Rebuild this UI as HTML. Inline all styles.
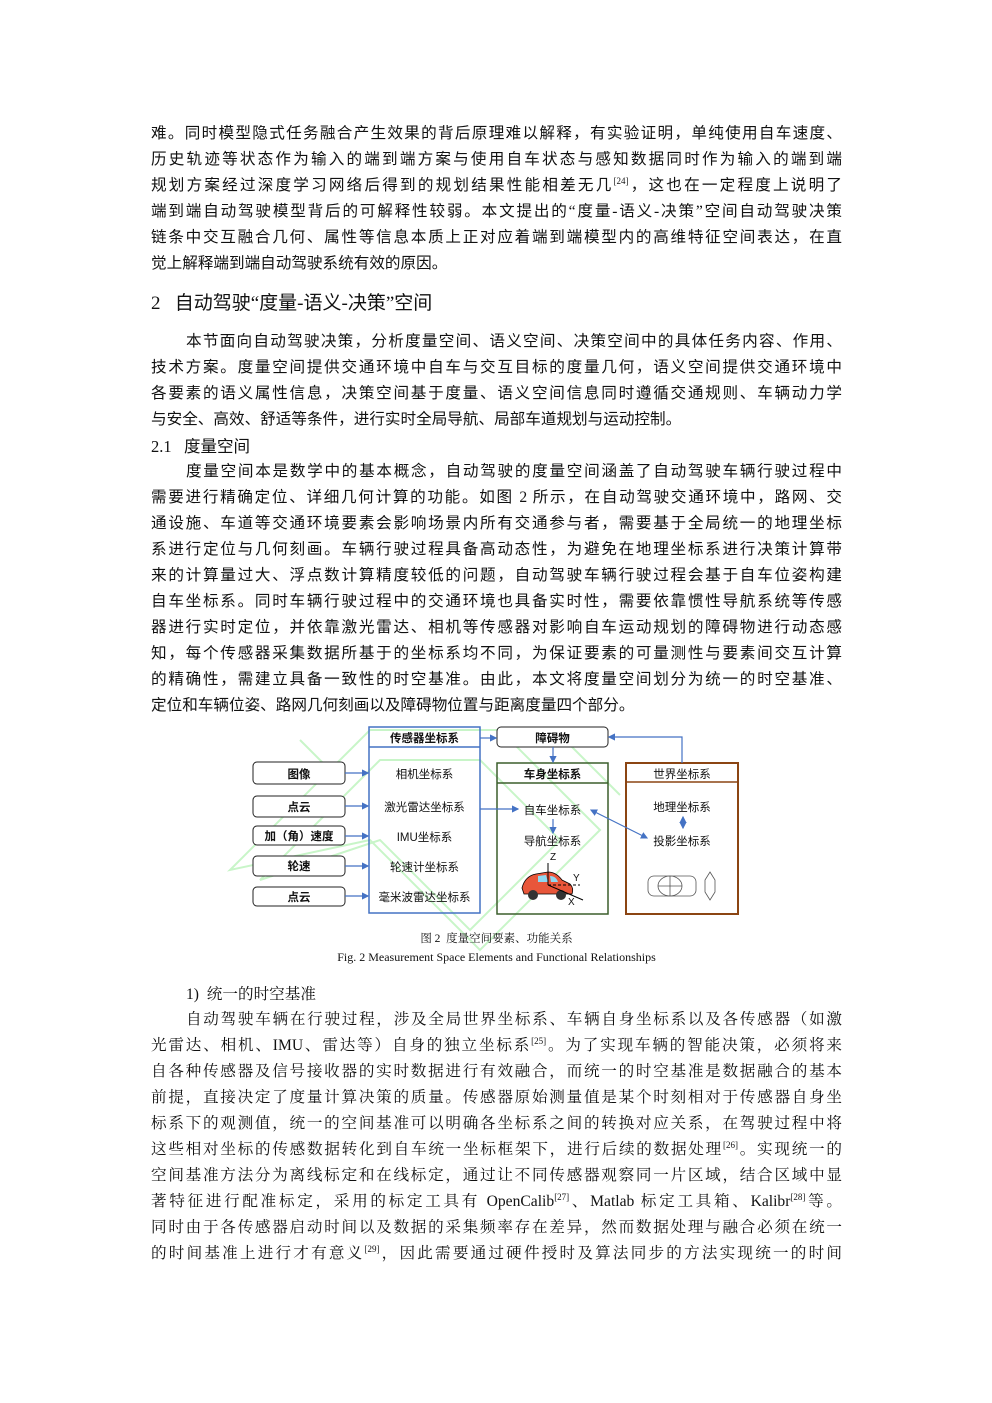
<!DOCTYPE html>
<html><head><meta charset="utf-8"><style>
body{margin:0;background:#fff;}
#p{position:relative;width:992px;height:1403px;overflow:hidden;background:#fff;color:#111;}
.l{position:absolute;left:151px;width:691px;height:22px;line-height:22px;font-size:15.6px;text-align:justify;text-align-last:justify;font-family:"Liberation Serif","Noto Sans CJK SC",sans-serif;white-space:nowrap;overflow:visible;margin-top:2px;}
.s{font-family:"Liberation Serif","Noto Serif CJK SC",serif;}
.n{text-align-last:left;}
.i{left:186px;width:656px;}
sup{font-size:9px;line-height:0;}
.d{position:absolute;font-family:"Liberation Sans","Noto Sans CJK SC",sans-serif;font-size:11.5px;text-align:center;}
</style></head><body><div id="p">
<div class="l" style="top:121px">难。同时模型隐式任务融合产生效果的背后原理难以解释，有实验证明，单纯使用自车速度、</div>
<div class="l" style="top:147px">历史轨迹等状态作为输入的端到端方案与使用自车状态与感知数据同时作为输入的端到端</div>
<div class="l" style="top:173px">规划方案经过深度学习网络后得到的规划结果性能相差无几<sup>[24]</sup>，这也在一定程度上说明了</div>
<div class="l" style="top:199px">端到端自动驾驶模型背后的可解释性较弱。本文提出的“度量-语义-决策”空间自动驾驶决策</div>
<div class="l" style="top:225px">链条中交互融合几何、属性等信息本质上正对应着端到端模型内的高维特征空间表达，在直</div>
<div class="l n" style="top:251px">觉上解释端到端自动驾驶系统有效的原因。</div>
<div class="l n" style="top:290px;font-size:19px;height:24px;line-height:24px">2&nbsp;&nbsp;&nbsp;自动驾驶“度量-语义-决策”空间</div>
<div class="l i" style="top:329px">本节面向自动驾驶决策，分析度量空间、语义空间、决策空间中的具体任务内容、作用、</div>
<div class="l" style="top:355px">技术方案。度量空间提供交通环境中自车与交互目标的度量几何，语义空间提供交通环境中</div>
<div class="l" style="top:381px">各要素的语义属性信息，决策空间基于度量、语义空间信息同时遵循交通规则、车辆动力学</div>
<div class="l n" style="top:407px">与安全、高效、舒适等条件，进行实时全局导航、局部车道规划与运动控制。</div>
<div class="l n" style="top:434px;font-size:16.5px">2.1&nbsp;&nbsp;&nbsp;度量空间</div>
<div class="l i" style="top:459px">度量空间本是数学中的基本概念，自动驾驶的度量空间涵盖了自动驾驶车辆行驶过程中</div>
<div class="l" style="top:485px">需要进行精确定位、详细几何计算的功能。如图 2 所示，在自动驾驶交通环境中，路网、交</div>
<div class="l" style="top:511px">通设施、车道等交通环境要素会影响场景内所有交通参与者，需要基于全局统一的地理坐标</div>
<div class="l" style="top:537px">系进行定位与几何刻画。车辆行驶过程具备高动态性，为避免在地理坐标系进行决策计算带</div>
<div class="l" style="top:563px">来的计算量过大、浮点数计算精度较低的问题，自动驾驶车辆行驶过程会基于自车位姿构建</div>
<div class="l" style="top:589px">自车坐标系。同时车辆行驶过程中的交通环境也具备实时性，需要依靠惯性导航系统等传感</div>
<div class="l" style="top:615px">器进行实时定位，并依靠激光雷达、相机等传感器对影响自车运动规划的障碍物进行动态感</div>
<div class="l" style="top:641px">知，每个传感器采集数据所基于的坐标系均不同，为保证要素的可量测性与要素间交互计算</div>
<div class="l" style="top:667px">的精确性，需建立具备一致性的时空基准。由此，本文将度量空间划分为统一的时空基准、</div>
<div class="l n" style="top:693px">定位和车辆位姿、路网几何刻画以及障碍物位置与距离度量四个部分。</div>

<svg style="position:absolute;left:0;top:0" width="992" height="1403">
<defs><marker id="a" markerWidth="6" markerHeight="6" refX="5" refY="3" orient="auto"><path d="M0,0 L6,3 L0,6z" fill="#4472c4"/></marker>
<marker id="b" markerWidth="6" markerHeight="6" refX="1" refY="3" orient="auto"><path d="M6,0 L0,3 L6,6z" fill="#4472c4"/></marker></defs>
<g fill="none" stroke="#c8f5c8" stroke-width="2">
<path d="M230,870 L370,730 L500,730 L600,830 L480,950 L370,840z"/>
<path d="M260,880 L380,760 L480,760 L560,840 L470,930 L380,840z"/>
<path d="M300,740 L340,780 M560,735 L620,795"/>
</g>
<g fill="#fff" stroke="#222" stroke-width="1">
<rect x="253" y="762" width="92" height="22" rx="4"/>
<rect x="253" y="796" width="92" height="21" rx="4"/>
<rect x="253" y="826" width="92" height="19" rx="4"/>
<rect x="253" y="856" width="92" height="20" rx="4"/>
<rect x="253" y="887" width="92" height="19" rx="4"/>
<rect x="497" y="727" width="111" height="20" rx="4"/>
</g>
<rect x="369" y="727" width="111" height="186" fill="none" stroke="#4472c4" stroke-width="1.5"/>
<line x1="369" y1="747" x2="480" y2="747" stroke="#4472c4" stroke-width="1.5"/>
<rect x="497" y="763" width="111" height="151" fill="none" stroke="#3b5e2b" stroke-width="1.5"/>
<line x1="497" y1="783" x2="608" y2="783" stroke="#3b5e2b" stroke-width="1.5"/>
<rect x="626" y="763" width="112" height="151" fill="none" stroke="#8b4513" stroke-width="2"/>
<line x1="626" y1="782" x2="738" y2="782" stroke="#8b4513" stroke-width="1.5"/>
<g stroke="#4472c4" stroke-width="1.2" fill="none" marker-end="url(#a)">
<line x1="345" y1="773" x2="368" y2="773"/>
<line x1="345" y1="806" x2="368" y2="806"/>
<line x1="345" y1="836" x2="368" y2="836"/>
<line x1="345" y1="866" x2="368" y2="866"/>
<line x1="345" y1="896" x2="368" y2="896"/>
<line x1="480" y1="738" x2="496" y2="738"/>
<line x1="553" y1="747" x2="553" y2="762"/>
<polyline points="682,763 682,737 609,737"/>
<line x1="480" y1="809" x2="518" y2="809"/>
<line x1="553" y1="819" x2="553" y2="833"/>
<line x1="591" y1="810" x2="647" y2="838" marker-start="url(#b)"/>
<line x1="683" y1="817" x2="683" y2="828" marker-start="url(#b)"/>
</g>
<g>
<path d="M522,888 Q525,876 536,874 L548,872 Q556,872 562,880 L570,884 Q574,888 572,894 L524,894z" fill="#e8563a" stroke="#000" stroke-width="0.8"/>
<path d="M538,876 L546,875 L548,882 L538,882z M550,876 Q556,876 558,882 L551,882z" fill="#8fd8f0"/>
<circle cx="533" cy="895" r="5" fill="#333"/><circle cx="561" cy="895" r="5" fill="#333"/>
<g stroke="#000" stroke-width="1"><line x1="548" y1="885" x2="548" y2="863"/><line x1="548" y1="885" x2="580" y2="885" stroke-dasharray="3,2"/><line x1="548" y1="885" x2="583" y2="900"/></g>
</g>
<g stroke="#555" stroke-width="0.8" fill="none">
<rect x="648" y="876" width="48" height="20" rx="6"/><ellipse cx="670" cy="886" rx="12" ry="10"/><line x1="658" y1="886" x2="682" y2="886"/><line x1="670" y1="876" x2="670" y2="896"/>
<path d="M710,872 L715,880 L715,892 L710,900 L705,892 L705,880z"/>
</g>
</svg>
<div class="d" style="left:253px;top:766px;width:92px;font-weight:bold">图像</div>
<div class="d" style="left:253px;top:799px;width:92px;font-weight:bold">点云</div>
<div class="d" style="left:253px;top:828px;width:92px;font-weight:bold">加（角）速度</div>
<div class="d" style="left:253px;top:858px;width:92px;font-weight:bold">轮速</div>
<div class="d" style="left:253px;top:889px;width:92px;font-weight:bold">点云</div>
<div class="d" style="left:369px;top:730px;width:111px;font-weight:bold">传感器坐标系</div>
<div class="d" style="left:369px;top:766px;width:111px">相机坐标系</div>
<div class="d" style="left:369px;top:799px;width:111px">激光雷达坐标系</div>
<div class="d" style="left:369px;top:829px;width:111px">IMU坐标系</div>
<div class="d" style="left:369px;top:859px;width:111px">轮速计坐标系</div>
<div class="d" style="left:369px;top:889px;width:111px">毫米波雷达坐标系</div>
<div class="d" style="left:497px;top:730px;width:111px;font-weight:bold">障碍物</div>
<div class="d" style="left:497px;top:766px;width:111px;font-weight:bold">车身坐标系</div>
<div class="d" style="left:497px;top:802px;width:111px">自车坐标系</div>
<div class="d" style="left:497px;top:833px;width:111px">导航坐标系</div>
<div class="d" style="left:550px;top:852px;font-size:10px">Z</div>
<div class="d" style="left:573px;top:873px;font-size:10px">Y</div>
<div class="d" style="left:568px;top:897px;font-size:10px">X</div>
<div class="d" style="left:626px;top:766px;width:112px">世界坐标系</div>
<div class="d" style="left:626px;top:799px;width:112px">地理坐标系</div>
<div class="d" style="left:626px;top:833px;width:112px">投影坐标系</div>
<div class="d s" style="left:151px;top:930px;width:691px;font-size:11.5px;font-family:'Liberation Serif','Noto Serif CJK SC',serif">图 2&nbsp;&nbsp;度量空间要素、功能关系</div>
<div class="d s" style="left:151px;top:950px;width:691px;font-size:12px;font-family:'Liberation Serif',serif">Fig. 2 Measurement Space Elements and Functional Relationships</div>

<div class="l n s" style="top:982px;left:186px">1)&nbsp;&nbsp;统一的时空基准</div>
<div class="l i s" style="top:1007px">自动驾驶车辆在行驶过程，涉及全局世界坐标系、车辆自身坐标系以及各传感器（如激</div>
<div class="l s" style="top:1033px">光雷达、相机、IMU、雷达等）自身的独立坐标系<sup>[25]</sup>。为了实现车辆的智能决策，必须将来</div>
<div class="l s" style="top:1059px">自各种传感器及信号接收器的实时数据进行有效融合，而统一的时空基准是数据融合的基本</div>
<div class="l s" style="top:1085px">前提，直接决定了度量计算决策的质量。传感器原始测量值是某个时刻相对于传感器自身坐</div>
<div class="l s" style="top:1111px">标系下的观测值，统一的空间基准可以明确各坐标系之间的转换对应关系，在驾驶过程中将</div>
<div class="l s" style="top:1137px">这些相对坐标的传感数据转化到自车统一坐标框架下，进行后续的数据处理<sup>[26]</sup>。实现统一的</div>
<div class="l s" style="top:1163px">空间基准方法分为离线标定和在线标定，通过让不同传感器观察同一片区域，结合区域中显</div>
<div class="l s" style="top:1189px">著特征进行配准标定，采用的标定工具有 OpenCalib<sup>[27]</sup>、Matlab 标定工具箱、Kalibr<sup>[28]</sup>等。</div>
<div class="l s" style="top:1215px">同时由于各传感器启动时间以及数据的采集频率存在差异，然而数据处理与融合必须在统一</div>
<div class="l s" style="top:1241px">的时间基准上进行才有意义<sup>[29]</sup>，因此需要通过硬件授时及算法同步的方法实现统一的时间</div>
</div></body></html>
